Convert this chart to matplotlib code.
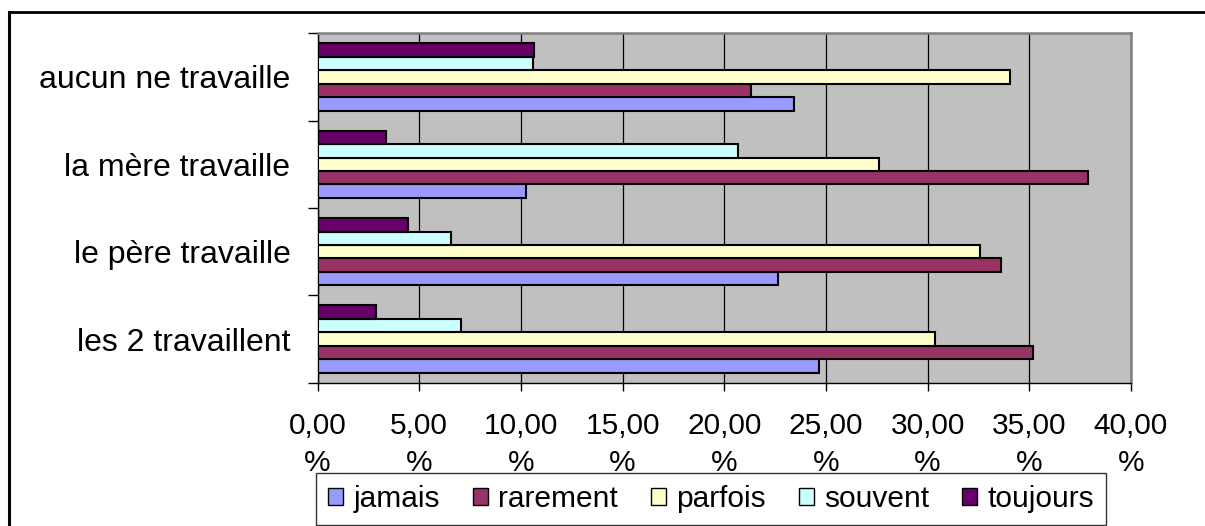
import matplotlib
matplotlib.use("Agg")
import matplotlib.pyplot as plt
from matplotlib.patches import Patch
from matplotlib.lines import Line2D
import numpy as np

plt.rcParams['font.family'] = ['Liberation Sans', 'DejaVu Sans']

categories = ["les 2 travaillent", "le père travaille", "la mère travaille", "aucun ne travaille"]
series_names = ["jamais", "rarement", "parfois", "souvent", "toujours"]
jamais   = [24.64, 22.66, 10.27, 23.41]
rarement = [35.18, 33.59, 37.91, 21.30]
parfois  = [30.36, 32.57, 27.62, 34.05]
souvent  = [7.06, 6.56, 20.69, 10.62]
toujours = [2.86, 4.47, 3.35, 10.66]
xticks = [0, 5, 10, 15, 20, 25, 30, 35, 40]
xtick_labels = ["0,00\n%", "5,00\n%", "10,00\n%", "15,00\n%", "20,00\n%",
                "25,00\n%", "30,00\n%", "35,00\n%", "40,00\n%"]

colors = ["#9999FF", "#993366", "#FFFFCC", "#CCFFFF", "#660066"]
series = [jamais, rarement, parfois, souvent, toujours]

W, H = 1205, 526
fig = plt.figure(figsize=(W / 100, H / 100), dpi=100)
fig.patch.set_facecolor("white")

left, right, top, bottom = 317.5, 1131, 33.3, 382.7
ax = fig.add_axes([left / W, 1 - bottom / H, (right - left) / W, (bottom - top) / H])
ax.set_facecolor("#C0C0C0")

y = np.arange(len(categories))
h = 1 / 6.5
for i, (vals, c) in enumerate(zip(series, colors)):
    ax.barh(y + (i - 2) * h, vals, height=h, color=c, edgecolor="black",
            linewidth=1.5, zorder=3)

ax.set_xlim(0, 40)
ax.set_ylim(-0.5, len(categories) - 0.5)
ax.set_xticks(xticks)
ax.set_xticklabels(xtick_labels, fontsize=21.5, linespacing=1.4)
ax.set_yticks(y)
ax.set_yticklabels(categories, fontsize=23)
ax.set_yticks(np.arange(-0.5, len(categories), 1), minor=True)
ax.tick_params(axis="y", which="major", length=0, pad=19.5)
ax.tick_params(axis="y", which="minor", length=7.5, width=1, direction="out", color="black")
ax.tick_params(axis="x", which="major", length=6, width=1, direction="out", pad=15, color="black")
ax.xaxis.grid(True, color="black", linewidth=0.9, zorder=1)
ax.set_axisbelow(True)

for s in ["top", "right"]:
    ax.spines[s].set_color("#808080")
    ax.spines[s].set_linewidth(1.8)
for s in ["left", "bottom"]:
    ax.spines[s].set_color("black")
    ax.spines[s].set_linewidth(1.0)

handles = [Patch(facecolor=c, edgecolor="black", linewidth=1.0) for c in colors]
leg = fig.legend(handles, series_names, loc="center", bbox_to_anchor=(711 / W, 1 - 499 / H),
                 ncol=5, fontsize=21.5, frameon=True, fancybox=False, handlelength=0.5,
                 handleheight=0.5, handletextpad=0.35, columnspacing=1.1,
                 borderpad=0.4, borderaxespad=0.0, edgecolor="black")
leg.get_frame().set_linewidth(1.0)

# outer chart frame
fig.add_artist(Line2D([9 / W, 1.01], [1 - 12 / H, 1 - 12 / H], transform=fig.transFigure,
                      color="black", linewidth=2.0))
fig.add_artist(Line2D([9 / W, 9 / W], [1 - 12 / H, -0.01], transform=fig.transFigure,
                      color="black", linewidth=2.2))

fig.savefig("out.png", dpi=100, facecolor="white")
